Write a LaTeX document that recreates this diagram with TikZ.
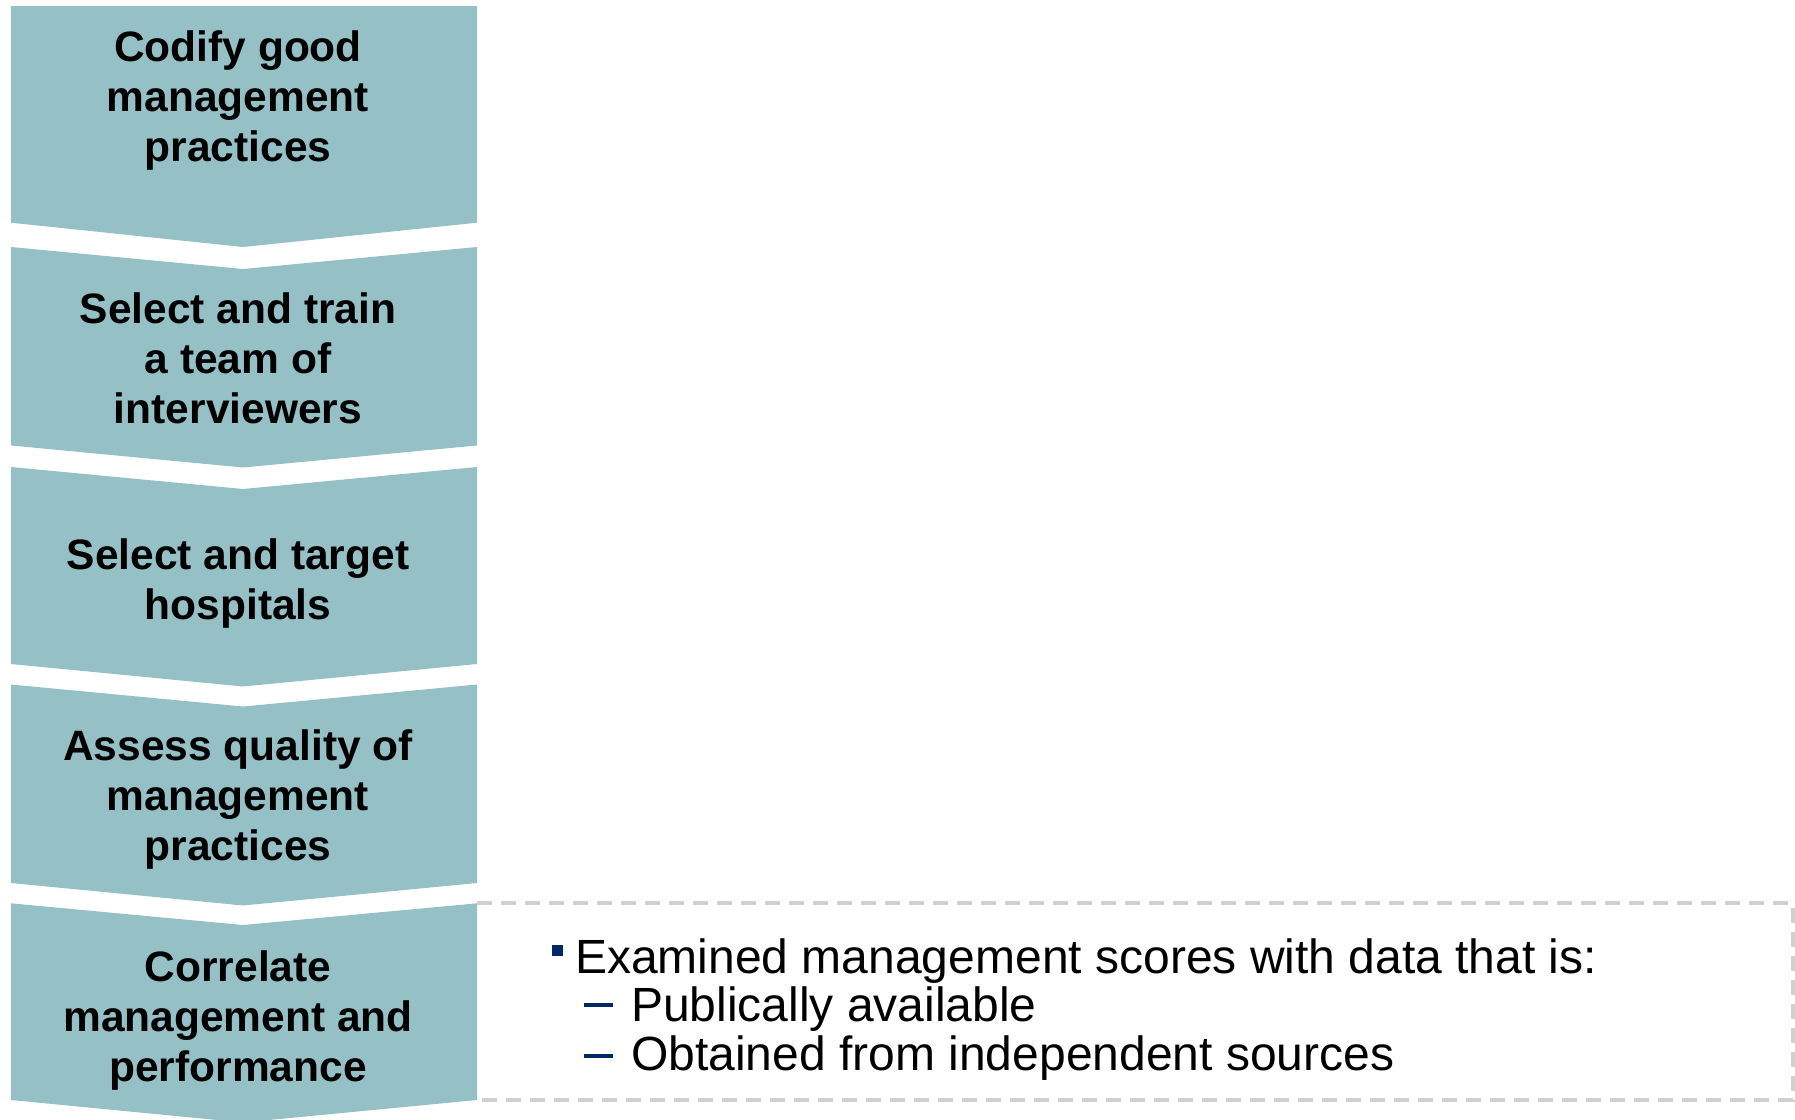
\documentclass[tikz,border=0pt]{standalone}
\usepackage{fontspec}
\setmainfont{Liberation Sans}
\definecolor{chevfill}{RGB}{149,193,198}
\definecolor{boxgray}{RGB}{208,208,208}
\definecolor{bulletnavy}{RGB}{0,38,100}
\tikzset{
  chev/.style={fill=chevfill, draw=none},
  steptext/.style={anchor=base, inner sep=0pt, font=\fontsize{42.5}{50}\selectfont\bfseries},
  bodytext/.style={anchor=base west, inner sep=0pt, font=\fontsize{48}{56}\selectfont},
  notebox/.style={draw=boxgray, line width=4pt, dash pattern=on 15pt off 9pt},
  navymark/.style={fill=bulletnavy, draw=none}
}
\begin{document}
\begin{tikzpicture}[x=1pt,y=-1pt]
\useasboundingbox (0,0) rectangle (1795,1119);
\clip (0,0) rectangle (1795,1119);
% dashed note box (left side hidden behind the last chevron)
\coordinate (bTL) at (477,903);
\coordinate (bTR) at (1792.5,903);
\coordinate (bBR) at (1792.5,1100);
\coordinate (bBL) at (477,1100);
\draw[notebox] (bTL) -- (bTR) -- (bBR) -- (bBL);
% chevrons
\fill[chev] (11,6) -- (477,6) -- (477,222.7) -- (243,247) -- (11,222.7) -- cycle;
\fill[chev] (11,247) -- (243,269) -- (477,247) -- (477,445.5) -- (243,467.5) -- (11,445.5) -- cycle;
\fill[chev] (11,467) -- (243,489) -- (477,467) -- (477,664) -- (243,686.5) -- (11,664) -- cycle;
\fill[chev] (11,684.5) -- (243,706.5) -- (477,684.5) -- (477,883) -- (243,905.5) -- (11,883) -- cycle;
\fill[chev] (11,903.3) -- (243,925) -- (477,903.3) -- (477,1100) -- (243,1122.5) -- (11,1100) -- cycle;
% chevron texts
\node[steptext] (s1a) at (238,61.7) {Codify good};
\node[steptext] (s1b) at (238,111.7) {management};
\node[steptext] (s1c) at (238,161.7) {practices};
\node[steptext] (s2a) at (238,323) {Select and train};
\node[steptext] (s2b) at (238,373) {a team of};
\node[steptext] (s2c) at (238,423) {interviewers};
\node[steptext] (s3a) at (238,569) {Select and target};
\node[steptext] (s3b) at (238,619) {hospitals};
\node[steptext] (s4a) at (238,760) {Assess quality of};
\node[steptext] (s4b) at (238,810) {management};
\node[steptext] (s4c) at (238,860) {practices};
\node[steptext] (s5a) at (238,981.7) {Correlate};
\node[steptext] (s5b) at (238,1031.7) {management and};
\node[steptext] (s5c) at (238,1081.7) {performance};
% note text
\fill[navymark] (552,945) rectangle (563,956);
\node[bodytext] (n1) at (575,973) {Examined management scores with data that is:};
\fill[navymark] (584,1003) rectangle (613,1007.3);
\node[bodytext] (n2) at (631,1021) {Publically available};
\fill[navymark] (584,1054) rectangle (613,1058.3);
\node[bodytext] (n3) at (631,1070) {Obtained from independent sources};
\end{tikzpicture}
\end{document}
